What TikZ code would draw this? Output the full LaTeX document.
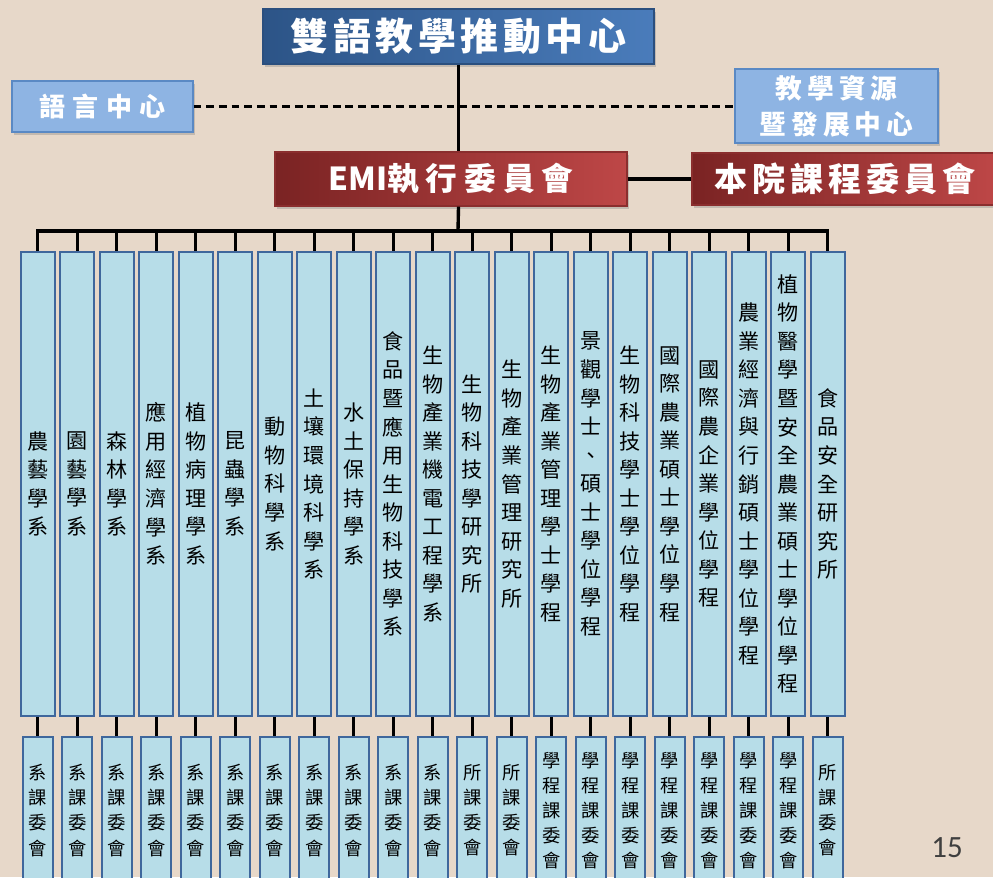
\documentclass[tikz,border=0pt]{standalone}
\usepackage{fontspec}
\newfontfamily\cjk{Noto Sans CJK TC}
\newfontfamily\pagefont{Carlito}
\usetikzlibrary{shadows}

\definecolor{bgbeige}{HTML}{E7D8C9}
\definecolor{deptfill}{HTML}{B7DDE8}
\definecolor{deptline}{HTML}{3F679C}
\definecolor{sidefill}{HTML}{8EB4E3}
\definecolor{sideline}{HTML}{5A89C4}
\definecolor{navyl}{HTML}{2C5487}
\definecolor{navyr}{HTML}{4A7CBB}
\definecolor{navyline}{HTML}{2B4F7E}
\definecolor{redl}{HTML}{7A2323}
\definecolor{redr}{HTML}{BE4747}
\definecolor{redline}{HTML}{8A2E2E}
\definecolor{pagegray}{HTML}{3F3F3F}

% one character per line
\def\vst#1{\expandafter\vstA#1\vstStop}
\def\vstA#1#2{#1\ifx\vstStop#2\expandafter\vstEnd\fi\\\vstA#2}
\def\vstEnd#1\vstStop{}
\def\vstStop{}

\tikzset{
  boxshadow/.style={drop shadow={opacity=0.35, shadow xshift=1.5pt, shadow yshift=-2pt}},
  topbox/.style={draw=navyline, line width=0.8pt, left color=navyl, right color=navyr, boxshadow,
    minimum width=9.775cm, minimum height=1.375cm, inner sep=0pt, text=white,
    font={\cjk\bfseries\fontsize{27pt}{30pt}\selectfont\addfontfeature{LetterSpace=12}}},
  sidebox/.style={draw=sideline, line width=0.8pt, fill=sidefill, boxshadow,
    minimum width=4.525cm, minimum height=1.275cm, inner sep=0pt, text=white, align=center},
  redbox/.style={draw=redline, line width=0.8pt, left color=redl, right color=redr, boxshadow,
    minimum width=8.8cm, minimum height=1.35cm, inner sep=0pt, text=white,
    font={\cjk\bfseries\fontsize{22.5pt}{26pt}\selectfont}},
  dept/.style={draw=deptline, line width=1.2pt, fill=deptfill, minimum width=0.85cm,
    minimum height=11.6cm, inner sep=0pt, align=center,
    font={\cjk\fontsize{15pt}{20.3pt}\selectfont}},
  cttee/.style={dept, minimum width=0.75cm, minimum height=3.675cm,
    font={\cjk\fontsize{13pt}{17.8pt}\selectfont}},
  link/.style={line width=2.4pt},
}

\begin{document}
\begin{tikzpicture}[x=0.025cm, y=-0.025cm]
\fill[bgbeige] (0,0) rectangle (993,877);
\useasboundingbox (0,0) rectangle (993,877);
\clip (0,0) rectangle (993,877);

% top of the chart
\node[topbox] (center) at (458.5,36.5) {雙語教學推動中心};
\node[sidebox, font={\cjk\bfseries\fontsize{18.5pt}{22pt}\selectfont\addfontfeature{LetterSpace=28}}]
  (lang) at (102.5,106.5) {語言中心};
\node[sidebox, minimum width=5.075cm, minimum height=1.85cm,
  font={\cjk\bfseries\fontsize{19pt}{25.6pt}\selectfont\addfontfeature{LetterSpace=19}}]
  (res) at (836.5,106) {教學資源\\暨發展中心};
\draw[line width=1.6pt, dash pattern=on 5.5pt off 3.5pt] (lang.east) -- (lang.east -| res.west);

\node[redbox] (emi) at (451,179) {EMI{\addfontfeature{LetterSpace=22}執行委員會}};
\node[redbox, minimum width=7.65cm, minimum height=1.3cm,
  font={\cjk\bfseries\fontsize{23.5pt}{27pt}\selectfont\addfontfeature{LetterSpace=15}}]
  (inst) at (845,179) {本院課程委員會};

\coordinate (bus) at (458,231);
\draw[link] (center.south) -- (center.south |- emi.north);
\draw[link] (center.south |- emi.south) -- (bus);
\draw[link] (emi.east) -- (inst.west);

% departments and their committees
\foreach \name/\kind [count=\i] in {
  農藝學系/系, 園藝學系/系, 森林學系/系, 應用經濟學系/系, 植物病理學系/系,
  昆蟲學系/系, 動物科學系/系, 土壤環境科學系/系, 水土保持學系/系,
  食品暨應用生物科技學系/系, 生物產業機電工程學系/系, 生物科技學研究所/所,
  生物產業管理研究所/所, 生物產業管理學士學程/學程, 景觀學士、碩士學位學程/學程,
  生物科技學士學位學程/學程, 國際農業碩士學位學程/學程, 國際農企業學位學程/學程,
  農業經濟與行銷碩士學位學程/學程, 植物醫學暨安全農業碩士學位學程/學程,
  食品安全研究所/所} {
  \node[dept] (d\i) at ({37.7+39.5*(\i-1)},484) {\vst{\name}};
  \node[cttee] (c\i) at ({37.7+39.5*(\i-1)},810.5) {\vst{\kind 課委會}};
  \draw[link] (d\i.south) -- (c\i.north);
}

\draw[link] (d1.north) -- (d1.north |- bus) -- (d21.north |- bus) -- (d21.north);
\foreach \i in {2,...,20}
  \draw[link] (d\i.north |- bus) -- (d\i.north);

\node[text=pagegray, font={\pagefont\fontsize{22pt}{26pt}\selectfont}] (page) at (947,848) {15};
\end{tikzpicture}
\end{document}
